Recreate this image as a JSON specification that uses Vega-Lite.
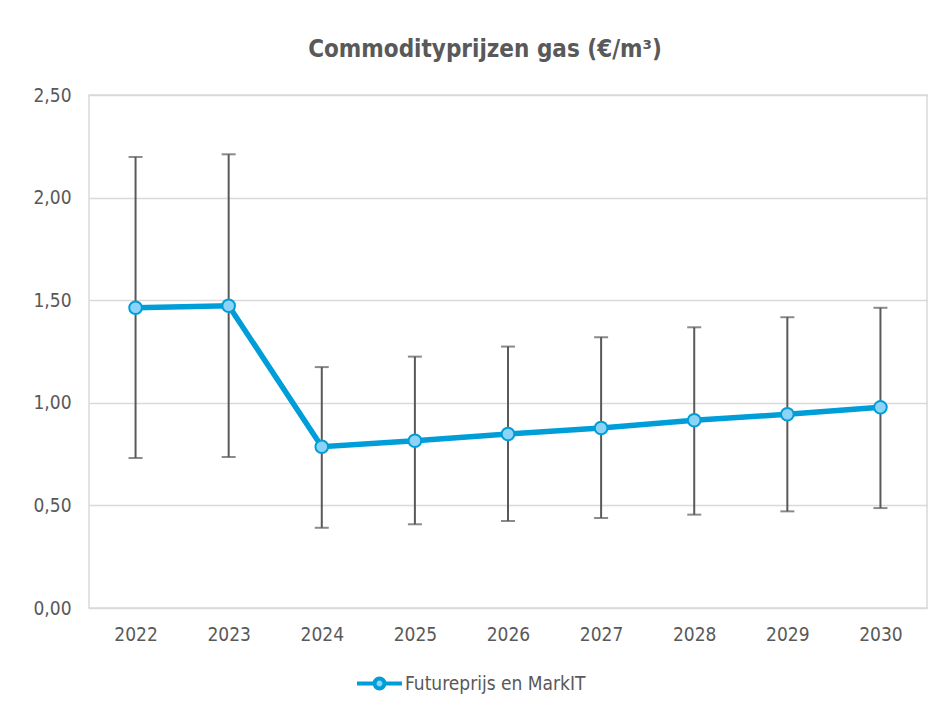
{
  "$schema": "https://vega.github.io/schema/vega-lite/v6.json",
  "width": 838,
  "height": 513,
  "autosize": {"type": "none"},
  "padding": {"left": 89, "top": 95, "right": 17, "bottom": 105},
  "background": "white",
  "title": {
    "text": "Commodityprijzen gas (€/m³)",
    "font": "DejaVu Sans Condensed",
    "fontSize": 24,
    "fontWeight": "bold",
    "color": "#595959",
    "anchor": "middle",
    "dx": -23,
    "offset": 5,
    "baseline": "alphabetic"
  },
  "config": {
    "locale": {"number": {"decimal": ",", "thousands": ".", "grouping": [3], "currency": ["€", ""]}},
    "font": "DejaVu Sans Condensed",
    "view": {"stroke": "#d9d9d9", "strokeWidth": 1.5},
    "axis": {
      "labelFont": "DejaVu Sans Condensed",
      "labelFontSize": 19,
      "labelColor": "#595959",
      "domain": false,
      "ticks": false,
      "title": null,
      "gridColor": "#d9d9d9",
      "gridWidth": 1.5
    }
  },
  "data": {
    "values": [
      {"year": "2022", "price": 1.463, "low": 0.731, "high": 2.198, "series": "Futureprijs en MarkIT"},
      {"year": "2023", "price": 1.473, "low": 0.736, "high": 2.211, "series": "Futureprijs en MarkIT"},
      {"year": "2024", "price": 0.786, "low": 0.391, "high": 1.174, "series": "Futureprijs en MarkIT"},
      {"year": "2025", "price": 0.815, "low": 0.408, "high": 1.225, "series": "Futureprijs en MarkIT"},
      {"year": "2026", "price": 0.848, "low": 0.424, "high": 1.274, "series": "Futureprijs en MarkIT"},
      {"year": "2027", "price": 0.877, "low": 0.439, "high": 1.32, "series": "Futureprijs en MarkIT"},
      {"year": "2028", "price": 0.915, "low": 0.455, "high": 1.368, "series": "Futureprijs en MarkIT"},
      {"year": "2029", "price": 0.944, "low": 0.471, "high": 1.417, "series": "Futureprijs en MarkIT"},
      {"year": "2030", "price": 0.978, "low": 0.487, "high": 1.463, "series": "Futureprijs en MarkIT"}
    ]
  },
  "encoding": {
    "x": {
      "field": "year",
      "type": "ordinal",
      "scale": {"type": "point", "padding": 0.5},
      "axis": {"labelAngle": 0, "grid": false, "labelPadding": 17}
    }
  },
  "layer": [
    {
      "mark": {"type": "rule", "color": "#595959", "strokeWidth": 2},
      "encoding": {
        "y": {
          "field": "low",
          "type": "quantitative",
          "scale": {"domain": [0, 2.5], "nice": false, "zero": true},
          "axis": {"values": [0, 0.5, 1, 1.5, 2, 2.5], "format": ".2f", "labelPadding": 18}
        },
        "y2": {"field": "high"}
      }
    },
    {
      "mark": {"type": "tick", "color": "#595959", "thickness": 2, "size": 14, "orient": "horizontal"},
      "encoding": {"y": {"field": "low", "type": "quantitative"}}
    },
    {
      "mark": {"type": "tick", "color": "#595959", "thickness": 2, "size": 14, "orient": "horizontal"},
      "encoding": {"y": {"field": "high", "type": "quantitative"}}
    },
    {
      "mark": {"type": "line", "strokeWidth": 5.5},
      "encoding": {
        "y": {"field": "price", "type": "quantitative"},
        "color": {
          "field": "series",
          "type": "nominal",
          "scale": {"range": ["#009ed9"]},
          "legend": {
            "title": null,
            "orient": "none",
            "legendX": 266,
            "legendY": 564,
            "labelFont": "DejaVu Sans Condensed",
            "labelFontSize": 19,
            "labelColor": "#595959",
            "labelLimit": 400,
            "labelOffset": 1,
            "symbolType": "M-1,0L-0.22,0M0.22,0L1,0M-0.22,0A0.22,0.22 0 1,1 0.22,0A0.22,0.22 0 1,1 -0.22,0Z",
            "symbolSize": 2025,
            "encode": {
              "symbols": {
                "update": {
                  "fill": {"value": "#8dd3f8"},
                  "stroke": {"value": "#009ed9"},
                  "strokeWidth": {"value": 4},
                  "opacity": {"value": 1}
                }
              }
            }
          }
        }
      }
    },
    {
      "mark": {"type": "point", "filled": true, "size": 160, "fill": "#8dd3f8", "stroke": "#009ed9", "strokeWidth": 2, "opacity": 1},
      "encoding": {"y": {"field": "price", "type": "quantitative"}}
    }
  ]
}
